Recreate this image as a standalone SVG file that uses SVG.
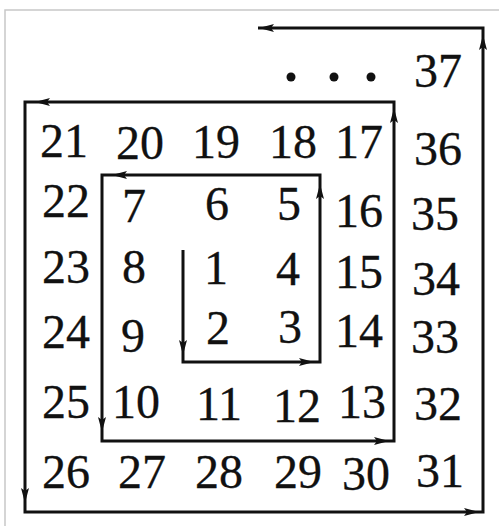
<svg xmlns="http://www.w3.org/2000/svg" width="499" height="526" viewBox="0 0 499 526">
<style>
.n{font-family:'Liberation Serif','Times New Roman',Times,serif;font-size:48px;fill:#111;stroke:#111;stroke-width:0.3;text-anchor:middle}
.sp{fill:none;stroke:#111;stroke-width:3;stroke-linejoin:miter}
.ah{fill:#111}
</style>
<defs>
<path id="ar" d="M0,0 L-15,-4 L-12,0 L-15,4 Z"/>
</defs>
<rect width="499" height="526" fill="#fff"/>
<path d="M5,526 V10 H499" fill="none" stroke="#c8c8c8" stroke-width="1.5"/>
<g id="connectors">
<path class="sp" d="M183,250 V362 H320 V175 H102 V441 H394 V102 H25 V512 H483 V28 H258"/>
<use href="#ar" class="ah" transform="translate(183,355) rotate(90)"/>
<use href="#ar" class="ah" transform="translate(314,362)"/>
<use href="#ar" class="ah" transform="translate(320,184) rotate(-90)"/>
<use href="#ar" class="ah" transform="translate(112,175) rotate(180)"/>
<use href="#ar" class="ah" transform="translate(102,432) rotate(90)"/>
<use href="#ar" class="ah" transform="translate(389,441)"/>
<use href="#ar" class="ah" transform="translate(394,108) rotate(-90)"/>
<use href="#ar" class="ah" transform="translate(35,102) rotate(180)"/>
<use href="#ar" class="ah" transform="translate(25,503) rotate(90)"/>
<use href="#ar" class="ah" transform="translate(479,512)"/>
<use href="#ar" class="ah" transform="translate(483,35) rotate(-90)"/>
<use href="#ar" class="ah" transform="translate(259,28) rotate(180)"/>
</g>
<g id="dots">
<circle cx="291" cy="77" r="4.5" fill="#111"/>
<circle cx="334" cy="77" r="4.5" fill="#111"/>
<circle cx="371" cy="77" r="4.5" fill="#111"/>
</g>
<g font-family="Liberation Serif">
<g id="n1"><text class="n" x="216" y="284">1</text></g>
<g id="n2"><text class="n" x="218" y="344">2</text></g>
<g id="n3"><text class="n" x="290" y="343">3</text></g>
<g id="n4"><text class="n" x="288" y="285">4</text></g>
<g id="n5"><text class="n" x="289" y="220">5</text></g>
<g id="n6"><text class="n" x="217" y="220">6</text></g>
<g id="n7"><text class="n" x="134" y="222">7</text></g>
<g id="n8"><text class="n" x="134" y="283">8</text></g>
<g id="n9"><text class="n" x="133" y="352">9</text></g>
<g id="n10"><text class="n" x="136" y="418">10</text></g>
<g id="n11"><text class="n" x="219" y="420">11</text></g>
<g id="n12"><text class="n" x="297" y="422">12</text></g>
<g id="n13"><text class="n" x="362" y="418">13</text></g>
<g id="n14"><text class="n" x="359" y="347">14</text></g>
<g id="n15"><text class="n" x="359" y="288">15</text></g>
<g id="n16"><text class="n" x="359" y="227">16</text></g>
<g id="n17"><text class="n" x="359" y="158">17</text></g>
<g id="n18"><text class="n" x="293" y="158">18</text></g>
<g id="n19"><text class="n" x="216" y="158">19</text></g>
<g id="n20"><text class="n" x="140" y="159">20</text></g>
<g id="n21"><text class="n" x="64" y="157">21</text></g>
<g id="n22"><text class="n" x="66" y="217">22</text></g>
<g id="n23"><text class="n" x="66" y="283">23</text></g>
<g id="n24"><text class="n" x="66" y="348">24</text></g>
<g id="n25"><text class="n" x="66" y="418">25</text></g>
<g id="n26"><text class="n" x="66" y="488">26</text></g>
<g id="n27"><text class="n" x="142" y="488">27</text></g>
<g id="n28"><text class="n" x="219" y="488">28</text></g>
<g id="n29"><text class="n" x="298" y="488">29</text></g>
<g id="n30"><text class="n" x="366" y="490">30</text></g>
<g id="n31"><text class="n" x="440" y="487">31</text></g>
<g id="n32"><text class="n" x="438" y="420">32</text></g>
<g id="n33"><text class="n" x="435" y="353">33</text></g>
<g id="n34"><text class="n" x="436" y="295">34</text></g>
<g id="n35"><text class="n" x="435" y="230">35</text></g>
<g id="n36"><text class="n" x="438" y="165">36</text></g>
<g id="n37"><text class="n" x="438" y="87">37</text></g>
</g>
</svg>
